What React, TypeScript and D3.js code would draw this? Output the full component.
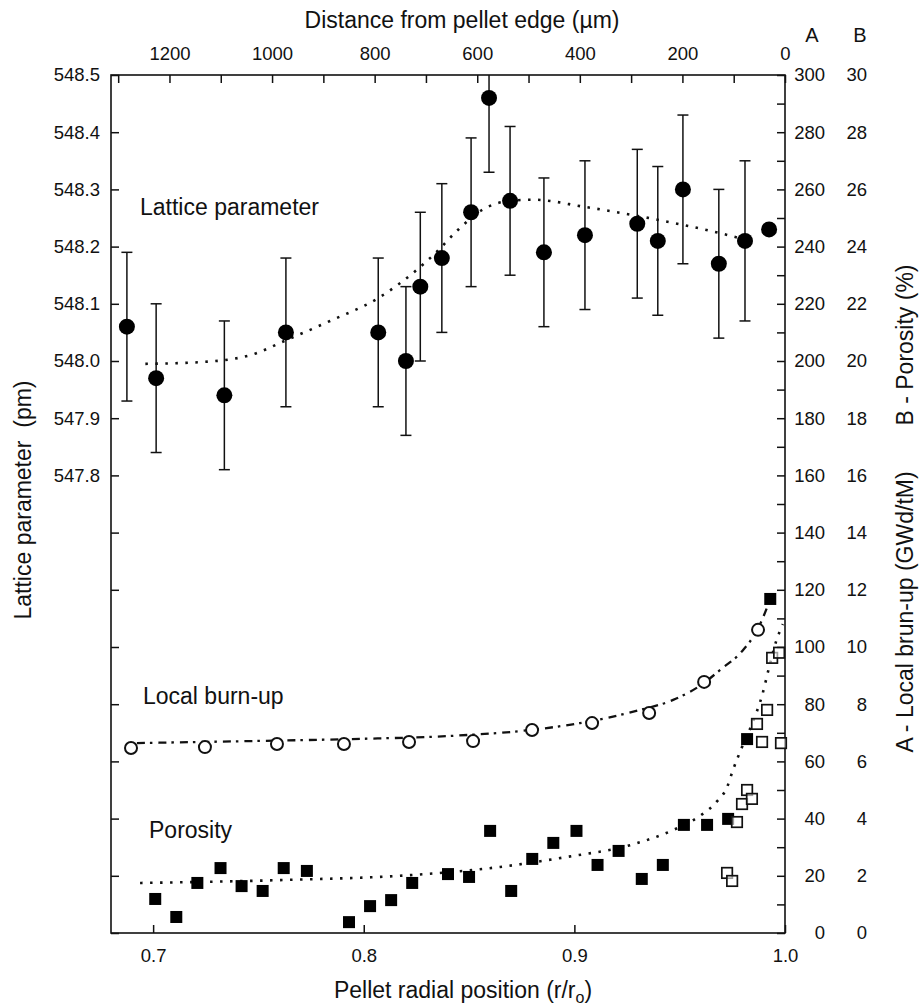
import { useRef, useEffect } from 'react'
import * as d3 from 'd3'

// lattice parameter, plotted against distance from pellet edge (top axis)
const latDist = [1283, 1226, 1093, 973, 793, 739, 711, 669, 612, 577, 536, 470, 390, 288, 248, 199, 129, 78, 31]
const latVal = [548.06, 547.97, 547.94, 548.05, 548.05, 548.0, 548.13, 548.18, 548.26, 548.46, 548.28, 548.19, 548.22, 548.24, 548.21, 548.3, 548.17, 548.21, 548.23]
const latErr = [0.13, 0.13, 0.13, 0.13, 0.13, 0.13, 0.13, 0.13, 0.13, 0.13, 0.13, 0.13, 0.13, 0.13, 0.13, 0.13, 0.13, 0.14, 0]
const latFitDist = [1247, 1140, 1043, 971, 887, 793, 725, 680, 639, 589, 536, 491, 394, 296, 199, 120, 90]
const latFitVal = [547.995, 547.998, 548.01, 548.037, 548.07, 548.11, 548.154, 548.19, 548.228, 548.265, 548.28, 548.282, 548.27, 548.255, 548.238, 548.222, 548.215]

// local burn-up (axis A), against r/r0
const buR = [0.6895, 0.7246, 0.7588, 0.7906, 0.8215, 0.8519, 0.8799, 0.9084, 0.9355, 0.9616, 0.9872]
const buVal = [64.7, 65.0, 66.1, 66.1, 66.8, 67.1, 71.0, 73.4, 76.9, 87.8, 106]
const buFitR = [0.6923, 0.746, 0.7935, 0.841, 0.8742, 0.9027, 0.9312, 0.9469, 0.9597, 0.9701, 0.9796, 0.9872, 0.9929]
const buFitVal = [66.4, 67.1, 67.8, 68.9, 70.6, 73.4, 78.0, 81.5, 86.5, 92.5, 98.5, 106.5, 116.5]

// porosity (axis B), against r/r0
const porR = [0.701, 0.711, 0.721, 0.732, 0.742, 0.752, 0.762, 0.773, 0.793, 0.803, 0.813, 0.823, 0.84, 0.85, 0.86, 0.87, 0.88, 0.89, 0.901, 0.911, 0.921, 0.932, 0.942, 0.952, 0.963, 0.973, 0.982, 0.993]
const porVal = [1.19, 0.56, 1.75, 2.27, 1.64, 1.47, 2.27, 2.17, 0.38, 0.94, 1.15, 1.75, 2.06, 1.96, 3.57, 1.47, 2.59, 3.15, 3.57, 2.38, 2.87, 1.89, 2.38, 3.78, 3.78, 3.99, 6.78, 11.68]
const por2R = [0.9725, 0.9749, 0.9772, 0.9796, 0.982, 0.9843, 0.9867, 0.9891, 0.9915, 0.9939, 0.9972, 0.9981]
const por2Val = [2.1, 1.82, 3.88, 4.51, 5.0, 4.69, 7.31, 6.68, 7.8, 9.62, 9.8, 6.64]
const porFitR = [0.6938, 0.7602, 0.8234, 0.8647, 0.8965, 0.9279, 0.9469, 0.9597, 0.9677, 0.9725, 0.9753, 0.9796, 0.9843, 0.9891, 0.9925, 0.9958, 0.999]
const porFitVal = [1.75, 1.85, 2.03, 2.31, 2.66, 3.1, 3.6, 4.1, 4.6, 5.1, 5.7, 6.5, 7.3, 8.3, 9.3, 10.2, 10.8]

const rTicks = [0.7, 0.8, 0.9, 1.0]

const FONT = '"Liberation Sans", Arial, sans-serif'

export default function App() {
  const svgRef = useRef<SVGSVGElement>(null)

  useEffect(() => {
    const W = 919, H = 1006
    const L = 111, R = 785, T = 75, B = 933
    const svg = d3.select(svgRef.current)
    svg.selectAll('*').remove()
    svg.attr('width', W).attr('height', H)
      .style('font-family', FONT)

    const x = d3.scaleLinear().domain([0.68, 1.0]).range([L, R])
    const xTop = d3.scaleLinear().domain([1314, 0]).range([L, R])
    const yLat = d3.scaleLinear().domain([547.0, 548.5]).range([B, T])
    const yA = d3.scaleLinear().domain([0, 300]).range([B, T])
    const yB = d3.scaleLinear().domain([0, 30]).range([B, T])

    const tickFont = 18.5

    // frame
    svg.append('rect')
      .attr('x', L).attr('y', T).attr('width', R - L).attr('height', B - T)
      .attr('fill', 'none').attr('stroke', '#111').attr('stroke-width', 1.6)

    const styleAxis = (g: any) => {
      g.select('.domain').remove()
      g.selectAll('line').attr('stroke', '#111').attr('stroke-width', 1.5)
      g.selectAll('text').attr('fill', '#111').style('font-size', tickFont + 'px').style('font-family', FONT)
    }

    // bottom
    svg.append('g').attr('transform', `translate(0,${B})`)
      .call(d3.axisBottom(x).tickValues(rTicks).tickSizeInner(-8).tickSizeOuter(0).tickPadding(16).tickFormat(d3.format('.1f')))
      .call(styleAxis)

    // top
    svg.append('g').attr('transform', `translate(0,${T})`)
      .call(d3.axisTop(xTop).tickValues(d3.range(0, 1301, 100)).tickSizeInner(-8).tickSizeOuter(0).tickPadding(15)
        .tickFormat((d: any) => (d % 200 === 0 ? String(d) : '')))
      .call(styleAxis)

    // left
    svg.append('g').attr('transform', `translate(${L},0)`)
      .call(d3.axisLeft(yLat).ticks(15).tickSizeInner(-8).tickSizeOuter(0).tickPadding(11)
        .tickFormat((d: any) => (d >= 547.75 ? d3.format('.1f')(d) : '')))
      .call(styleAxis)

    // right A
    const gA = svg.append('g').attr('transform', `translate(${R},0)`)
      .call(d3.axisRight(yA).tickValues(d3.range(0, 301, 10)).tickSizeInner(-8).tickSizeOuter(0)
        .tickFormat((d: any) => (d % 20 === 0 ? String(d) : '')))
      .call(styleAxis)
    gA.selectAll('text').attr('x', 40).attr('text-anchor', 'end')

    // right B (labels only)
    const gB = svg.append('g').attr('transform', `translate(${R},0)`)
      .call(d3.axisRight(yB).tickValues(d3.range(0, 31, 2)).tickSize(0).tickFormat((d: any) => String(d)))
      .call(styleAxis)
    gB.selectAll('line').remove()
    gB.selectAll('text').attr('x', 82).attr('text-anchor', 'end')

    // axis titles
    const title = (txt: string, tx: number, ty: number, rot = 0, size = 23) =>
      svg.append('text')
        .attr('transform', `translate(${tx},${ty}) rotate(${rot})`)
        .attr('text-anchor', 'middle').attr('fill', '#111')
        .style('font-size', size + 'px')
        .text(txt)

    title('Distance from pellet edge (\u00b5m)', 462, 28)
    title('A', 812, 42, 0, 20)
    title('B', 860, 42, 0, 20)
    title('Lattice parameter\u00a0 (pm)', 31, 500, -90)
    title('B - Porosity (%)', 913, 345, -90)
    title('A - Local brun-up (GWd/tM)', 913, 612, -90)

    const bt = svg.append('text').attr('x', 463).attr('y', 998)
      .attr('text-anchor', 'middle').attr('fill', '#111').style('font-size', '23px')
    bt.append('tspan').text('Pellet radial position (r/r')
    bt.append('tspan').attr('dy', 5).style('font-size', '16px').text('o')
    bt.append('tspan').attr('dy', -5).text(')')

    // in-plot labels
    const label = (txt: string, lx: number, ly: number) =>
      svg.append('text').attr('x', lx).attr('y', ly).attr('fill', '#111').style('font-size', '23px').text(txt)
    label('Lattice parameter', 140, 215)
    label('Local burn-up', 143, 704)
    label('Porosity', 149, 838)

    // fit curves
    const dotted = '2.5,7.5'
    const latFit = latFitDist.map((d, i) => [xTop(d), yLat(latFitVal[i])] as [number, number])
    svg.append('path')
      .attr('d', d3.line().curve(d3.curveMonotoneX)(latFit))
      .attr('fill', 'none').attr('stroke', '#111').attr('stroke-width', 2.6).attr('stroke-dasharray', dotted)

    const buFit = buFitR.map((r, i) => [x(r), yA(buFitVal[i])] as [number, number])
    svg.append('path')
      .attr('d', d3.line().curve(d3.curveMonotoneX)(buFit))
      .attr('fill', 'none').attr('stroke', '#111').attr('stroke-width', 2.3).attr('stroke-dasharray', '8,5,2.5,6')

    const porFit = porFitR.map((r, i) => [x(r), yB(porFitVal[i])] as [number, number])
    svg.append('path')
      .attr('d', d3.line().curve(d3.curveMonotoneX)(porFit))
      .attr('fill', 'none').attr('stroke', '#111').attr('stroke-width', 2.6).attr('stroke-dasharray', dotted)

    // lattice error bars + points
    const eb = svg.append('g').attr('stroke', '#111').attr('stroke-width', 1.5)
    latDist.forEach((d, i) => {
      if (!latErr[i]) return
      const cx = xTop(d)
      const hi = Math.min(latVal[i] + latErr[i], 548.5)
      const lo = latVal[i] - latErr[i]
      eb.append('line').attr('x1', cx).attr('x2', cx).attr('y1', yLat(hi)).attr('y2', yLat(lo))
      if (hi < 548.5) eb.append('line').attr('x1', cx - 5.5).attr('x2', cx + 5.5).attr('y1', yLat(hi)).attr('y2', yLat(hi))
      eb.append('line').attr('x1', cx - 5.5).attr('x2', cx + 5.5).attr('y1', yLat(lo)).attr('y2', yLat(lo))
    })
    svg.append('g').selectAll('circle').data(latDist).join('circle')
      .attr('cx', (d) => xTop(d)).attr('cy', (_d, i) => yLat(latVal[i]))
      .attr('r', 8).attr('fill', '#000')

    // burn-up open circles
    svg.append('g').selectAll('circle').data(buR).join('circle')
      .attr('cx', (d) => x(d)).attr('cy', (_d, i) => yA(buVal[i]))
      .attr('r', 6).attr('fill', '#fff').attr('stroke', '#111').attr('stroke-width', 2)

    // porosity squares
    const s = 12
    svg.append('g').selectAll('rect').data(porR).join('rect')
      .attr('x', (d) => x(d) - s / 2).attr('y', (_d, i) => yB(porVal[i]) - s / 2)
      .attr('width', s).attr('height', s).attr('fill', '#000')

    const s2 = 10.5
    svg.append('g').selectAll('rect').data(por2R).join('rect')
      .attr('x', (d) => x(d) - s2 / 2).attr('y', (_d, i) => yB(por2Val[i]) - s2 / 2)
      .attr('width', s2).attr('height', s2).attr('fill', '#fff').attr('fill-opacity', 0.6)
      .attr('stroke', '#111').attr('stroke-width', 1.7)
  }, [])

  return (
    <div style={{ position: 'absolute', left: 0, top: 0, background: '#fff' }}>
      <svg ref={svgRef}></svg>
    </div>
  )
}
